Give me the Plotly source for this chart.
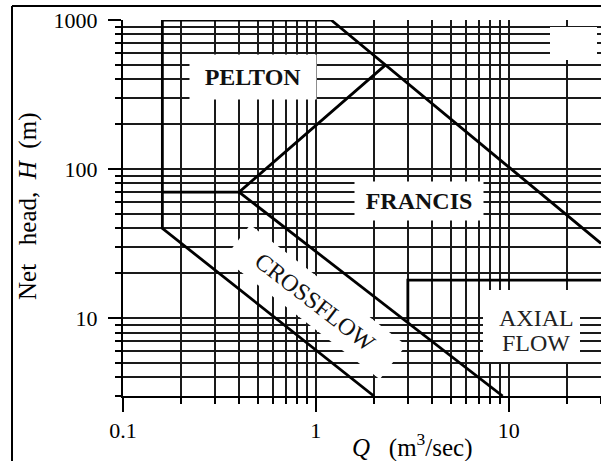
import plotly.graph_objects as go

# ---- data ----
q_major = [0.1, 1, 10]
q_major_labels = ["0.1", "1", "10"]
q_minor = [0.2, 0.3, 0.4, 0.5, 0.6, 0.7, 0.8, 0.9,
           2, 3, 4, 5, 6, 7, 8, 9, 20, 30]
h_major = [10, 100, 1000]
h_major_labels = ["10", "100", "1000"]
h_minor = [3, 4, 5, 6, 7, 8, 9,
           20, 30, 40, 50, 60, 70, 80, 90,
           200, 300, 400, 500, 600, 700, 800, 900]

# turbine region boundaries (Q in m3/s, H in m)
outer_q = [30.1, 1.2, 0.16, 0.16, 2.0]
outer_h = [31.7, 1000, 1000, 40, 3]
pelton_francis_q = [0.16, 0.4, 2.3]
pelton_francis_h = [70, 70, 500]
crossflow_upper_q = [0.4, 9.3]
crossflow_upper_h = [70, 3]
axial_q = [3, 3, 30.1]
axial_h = [9.3, 18, 18]

SERIF = "Liberation Serif, Times New Roman, serif"

fig = go.Figure()
for qs, hs in [(outer_q, outer_h), (pelton_francis_q, pelton_francis_h),
               (crossflow_upper_q, crossflow_upper_h), (axial_q, axial_h)]:
    fig.add_trace(go.Scatter(x=qs, y=hs, mode="lines",
                             line=dict(color="black", width=2.8),
                             showlegend=False, hoverinfo="skip"))

grid = dict(showgrid=True, gridcolor="#1a1a1a", gridwidth=1.7)

fig.update_xaxes(type="log", range=[-1, 1.4786],
                 tickmode="array", tickvals=q_major, ticktext=q_major_labels,
                 ticks="outside", ticklen=14, tickwidth=2, tickcolor="black",
                 showline=True, linecolor="black", linewidth=2,
                 zeroline=False,
                 tickfont=dict(family=SERIF, size=22, color="black"),
                 minor=dict(tickmode="array", tickvals=q_minor, ticks="outside",
                            ticklen=6, tickwidth=2, tickcolor="black",
                            showgrid=True, gridcolor="#1a1a1a", gridwidth=1.7),
                 **grid)
fig.update_yaxes(type="log", range=[0.4771, 3],
                 tickmode="array", tickvals=h_major, ticktext=h_major_labels,
                 ticks="outside", ticklen=13, tickwidth=2, tickcolor="black",
                 showline=True, linecolor="black", linewidth=2,
                 zeroline=False, ticklabelstandoff=6,
                 tickfont=dict(family=SERIF, size=22, color="black"),
                 minor=dict(tickmode="array", tickvals=h_minor, ticks="outside",
                            ticklen=6, tickwidth=2, tickcolor="black",
                            showgrid=True, gridcolor="#1a1a1a", gridwidth=1.7),
                 **grid)

def px2paper(px, py):
    return (px - 123) / 478.0, (396 - py) / 376.0

annotations = []

def label(px, py, text, w, h, bold=False, size=23, angle=0, bg="white"):
    xp, yp = px2paper(px, py)
    t = f"<b>{text}</b>" if bold else text
    annotations.append(dict(xref="paper", yref="paper", x=xp, y=yp,
                            xanchor="center", yanchor="middle", text=t,
                            showarrow=False, textangle=angle,
                            width=w, height=h, bgcolor=bg, borderpad=0,
                            font=dict(family=SERIF, size=size, color="#111")))

label(253, 77, "PELTON", 126, 44, bold=True, size=24)
label(419, 201, "FRANCIS", 128, 38, bold=True, size=24)
label(315, 302, "CROSSFLOW", 196, 42, size=24, angle=37.7)

for py, t in [(318, "AXIAL"), (343, "FLOW")]:
    xp, yp = px2paper(536, py)
    annotations.append(dict(xref="paper", yref="paper", x=xp, y=yp,
                            xanchor="center", yanchor="middle", text=t,
                            showarrow=False,
                            font=dict(family=SERIF, size=24, color="#222")))

# axis titles
xp, yp = px2paper(28, 207)
annotations.append(dict(xref="paper", yref="paper", x=xp, y=yp,
                        xanchor="center", yanchor="middle", textangle=-90,
                        text="Net\u00a0\u00a0\u00a0head,\u00a0 <i>H</i>\u00a0 (m)",
                        showarrow=False,
                        font=dict(family=SERIF, size=25, color="black")))
xp, yp = px2paper(412, 445)
annotations.append(dict(xref="paper", yref="paper", x=xp, y=yp,
                        xanchor="center", yanchor="middle",
                        text="<i>Q</i>\u00a0\u00a0\u00a0(m<sup>3</sup>/sec)",
                        showarrow=False,
                        font=dict(family=SERIF, size=25, color="black")))

x0, y0 = px2paper(550, 60)
x1, y1 = px2paper(597, 27)
ax0, ay0 = px2paper(483, 362)
ax1, ay1 = px2paper(580, 290)
fx, fy = px2paper(12, 6)
shapes = [
    dict(type="rect", xref="paper", yref="paper", x0=x0, y0=y0, x1=x1, y1=y1,
         fillcolor="white", line=dict(width=0), layer="above"),
    dict(type="rect", xref="paper", yref="paper", x0=ax0, y0=ay0, x1=ax1, y1=ay1,
         fillcolor="white", line=dict(width=0), layer="above"),
    dict(type="line", xref="paper", yref="paper", x0=fx, y0=-1, x1=fx, y1=fy,
         line=dict(color="black", width=2)),
    dict(type="line", xref="paper", yref="paper", x0=fx, y0=fy, x1=1.2, y1=fy,
         line=dict(color="black", width=2)),
]

fig.update_layout(width=601, height=461,
                  margin=dict(l=123, r=0, t=20, b=65),
                  paper_bgcolor="white", plot_bgcolor="white",
                  annotations=annotations, shapes=shapes,
                  font=dict(family=SERIF))

fig.write_html("out.html",
               config={"displayModeBar": False},
               post_script="document.body.style.margin='0';"
                           "document.body.style.overflow='hidden';")
